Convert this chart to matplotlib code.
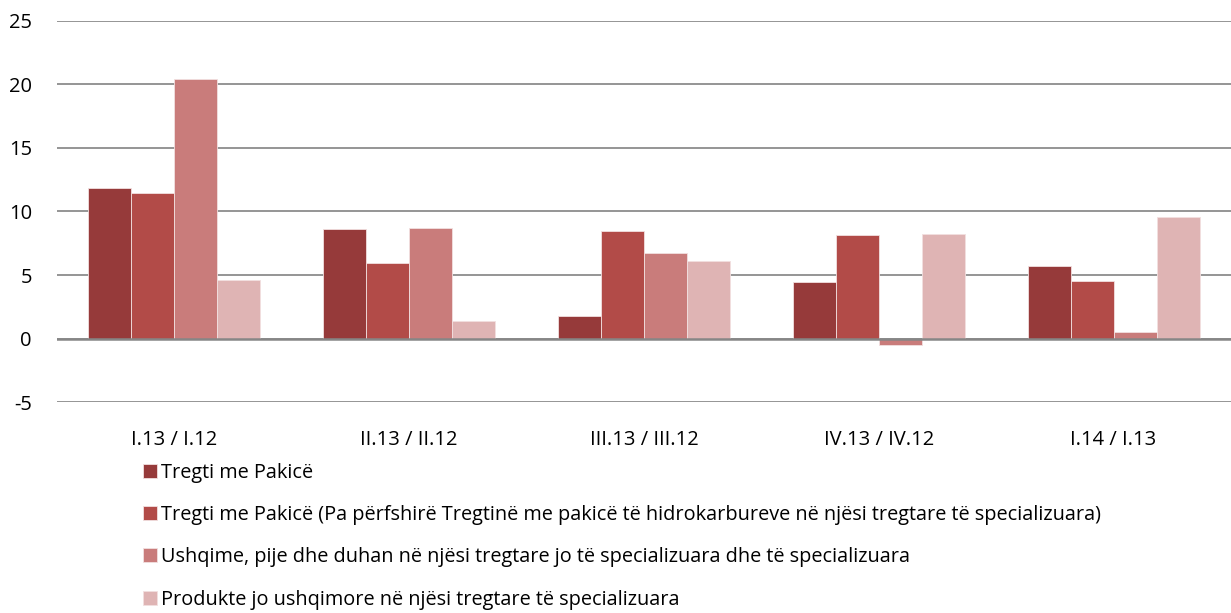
import numpy as np
from matplotlib import pyplot as plt

categories = ["I.13 / I.12", "II.13 / II.12", "III.13 / III.12", "IV.13 / IV.12", "I.14 / I.13"]
series_names = [
    "Tregti me Pakicë",
    "Tregti me Pakicë (Pa përfshirë Tregtinë me pakicë të hidrokarbureve në njësi tregtare të specializuara)",
    "Ushqime, pije dhe duhan në njësi tregtare jo të specializuara dhe të specializuara",
    "Produkte jo ushqimore në njësi tregtare të specializuara",
]
tregti = [11.87, 8.62, 1.75, 4.43, 5.71]
tregti_pa_hidro = [11.48, 5.92, 8.46, 8.12, 4.53]
ushqime = [20.4, 8.70, 6.71, -0.5, 0.55]
jo_ushqimore = [4.64, 1.39, 6.10, 8.25, 9.59]
colors = ['#963a3a', '#b24b48', '#c97c7b', '#dfb4b4']

plt.rcParams['font.family'] = ['Open Sans', 'DejaVu Sans']
plt.rcParams['axes.unicode_minus'] = False

fig = plt.figure(figsize=(12.31, 6.13), dpi=100)
ax = fig.add_axes([0.0463, 0.344, 0.9537, 0.622])

x = np.arange(len(categories))
w = 0.183
for i, vals in enumerate([tregti, tregti_pa_hidro, ushqime, jo_ushqimore]):
    ax.bar(x + (i - 1.5) * w, vals, w, color=colors[i], edgecolor='#f2e0e0',
           linewidth=0.6, label=series_names[i], zorder=3)

ax.set_xlim(-0.5, len(categories) - 0.5)
ax.set_ylim(-5, 25)
ax.set_yticks(range(-5, 26, 5))
ax.set_xticks(x)
ax.set_xticklabels(categories)
ax.tick_params(axis='both', length=0, labelsize=14.5)
ax.tick_params(axis='x', pad=20)
ax.tick_params(axis='y', pad=18)
for s in ax.spines.values():
    s.set_visible(False)
ax.grid(axis='y', color='#8c8c8c', linewidth=1.3)
ax.axhline(0, color='#868686', linewidth=1.8, zorder=4)
ax.set_axisbelow(True)

fig.legend(loc='upper left', bbox_to_anchor=(0.110, 0.258), frameon=False,
           handlelength=0.7, handleheight=0.7, handletextpad=0.2,
           labelspacing=1.12, fontsize=14.3, borderaxespad=0)

plt.savefig('out.png', dpi=100)
